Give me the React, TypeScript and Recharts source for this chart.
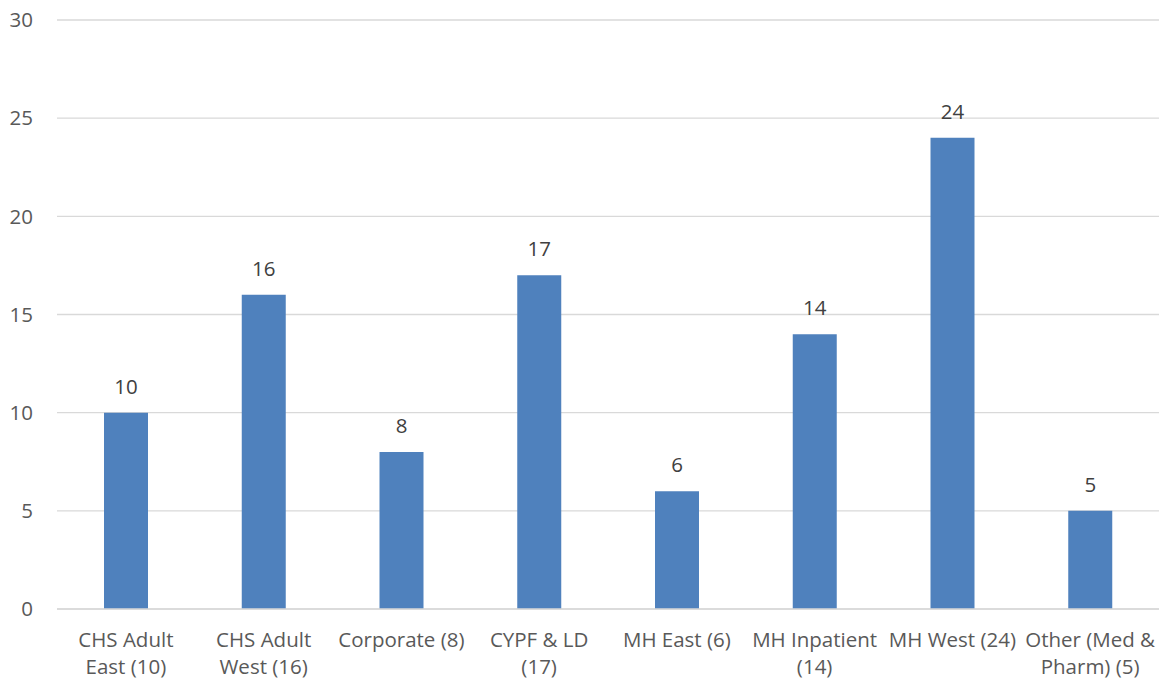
import React from 'react';
import { BarChart, Bar, XAxis, YAxis, CartesianGrid, LabelList } from 'recharts';

const categories = [
  'CHS Adult East (10)',
  'CHS Adult West (16)',
  'Corporate (8)',
  'CYPF & LD (17)',
  'MH East (6)',
  'MH Inpatient (14)',
  'MH West (24)',
  'Other (Med & Pharm) (5)',
];
const counts = [10, 16, 8, 17, 6, 14, 24, 5];
const yTicks = [0, 5, 10, 15, 20, 25, 30];

const data = categories.map((name, i) => ({ name, count: counts[i] }));

const FONT = '"Open Sans", Lato, sans-serif';
const FONT_SIZE = 20.5;

// wrap category names the way Excel does, roughly 13 chars per line
function wrap(text: string, maxChars = 13): string[] {
  const lines: string[] = [];
  let cur = '';
  for (const w of text.split(' ')) {
    const next = cur ? cur + ' ' + w : w;
    if (next.length > maxChars && cur) {
      lines.push(cur);
      cur = w;
    } else {
      cur = next;
    }
  }
  if (cur) lines.push(cur);
  return lines;
}

function CategoryTick(props: any) {
  const { x, y, payload } = props;
  const lines = wrap(String(payload.value));
  return (
    <g transform={`translate(${x},${y})`}>
      {lines.map((line, i) => (
        <text
          key={i}
          x={0}
          y={25 + i * 27}
          textAnchor="middle"
          dominantBaseline="middle"
          fill="#595959"
          fontSize={FONT_SIZE}
          fontFamily={FONT}
        >
          {line}
        </text>
      ))}
    </g>
  );
}

export default function App() {
  return (
    <div style={{ position: 'absolute', left: 0, top: 0, background: '#fff' }}>
      <BarChart
        width={1163}
        height={683}
        data={data}
        margin={{ top: 20, right: 4, bottom: 0, left: 0 }}
      >
        <CartesianGrid vertical={false} stroke="#d9d9d9" strokeWidth={1.3} />
        <XAxis
          dataKey="name"
          interval={0}
          height={74}
          axisLine={{ stroke: '#d9d9d9', strokeWidth: 1.3 }}
          tickLine={false}
          tick={<CategoryTick />}
        />
        <YAxis
          width={57}
          domain={[0, 30]}
          ticks={yTicks}
          axisLine={false}
          tickLine={false}
          tickSize={0}
          tickMargin={24}
          tick={{ fill: '#595959', fontSize: FONT_SIZE, fontFamily: FONT }}
        />
        <Bar dataKey="count" fill="#4f81bd" barSize={44} isAnimationActive={false}>
          <LabelList
            dataKey="count"
            position="top"
            offset={19}
            fill="#404040"
            fontSize={FONT_SIZE}
            fontFamily={FONT}
          />
        </Bar>
      </BarChart>
    </div>
  );
}
